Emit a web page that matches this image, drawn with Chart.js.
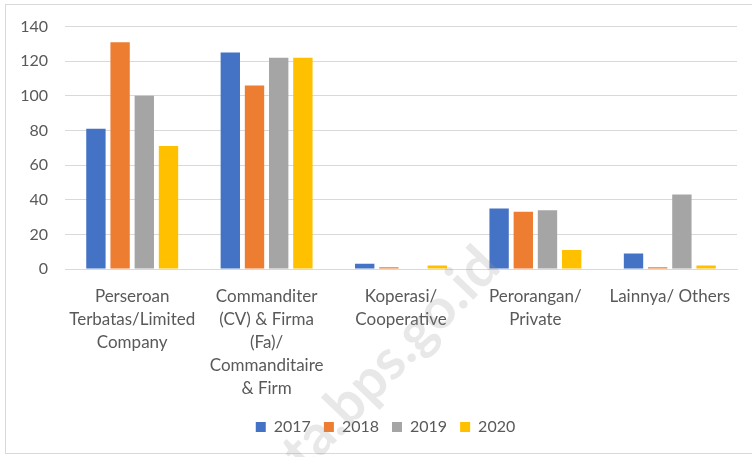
<!DOCTYPE html>
<html>
<head>
<meta charset="utf-8">
<script src="https://cdn.jsdelivr.net/npm/chart.js@4"></script>
<style>
    html, body { margin: 0; padding: 0; background: #fff; }
    #wrap { width: 752px; height: 457px; position: relative; }
</style>
</head>
<body>
<div id="wrap"><canvas id="chart"></canvas></div>
<script>
// categories (wrapped the way the source chart wraps them)
const categories = [
    ['Perseroan', 'Terbatas/Limited', 'Company'],
    ['Commanditer', '(CV) & Firma', '(Fa)/', 'Commanditaire', '& Firm'],
    ['Koperasi/', 'Cooperative'],
    ['Perorangan/', 'Private'],
    ['Lainnya/ Others']
];
const years = ['2017', '2018', '2019', '2020'];
const values2017 = [81, 125, 3, 35, 9];
const values2018 = [131, 106, 1, 33, 1];
const values2019 = [100, 122, 0, 34, 43];
const values2020 = [71, 122, 2, 11, 2];
const yTicks = [0, 20, 40, 60, 80, 100, 120, 140];

const colors = ['#4472C4', '#ED7D31', '#A5A5A5', '#FFC000'];
const textColor = '#595959';
const fontFamily = 'Lato, "Noto Sans", sans-serif';

const frame = {
    id: 'frame',
    afterLayout(chart) {
        // legend sits a bit right of centre in the original
        chart.legend.left += 17;
        chart.legend.right += 17;
    },
    beforeDraw(chart) {
        const ctx = chart.ctx;
        ctx.save();
        ctx.fillStyle = '#fff';
        ctx.fillRect(0, 0, chart.width, chart.height);
        ctx.strokeStyle = '#d9d9d9';
        ctx.lineWidth = 1;
        ctx.strokeRect(5.5, 4.5, chart.width + 10, 449);
        ctx.restore();
    },
    afterDraw(chart) {
        // faint site watermark
        const ctx = chart.ctx;
        ctx.save();
        ctx.translate(270, 484);
        ctx.rotate(-46 * Math.PI / 180);
        ctx.font = 'bold 56px ' + fontFamily;
        ctx.fillStyle = 'rgba(150,150,150,0.22)';
        ctx.fillText('ota.bps.go.id', 0, 0);
        ctx.restore();
    }
};

new Chart(document.getElementById('chart'), {
    type: 'bar',
    data: {
        labels: categories,
        datasets: [values2017, values2018, values2019, values2020].map((v, i) => ({
            label: years[i],
            data: v,
            backgroundColor: colors[i],
            borderWidth: 0,
            barPercentage: 0.8,
            categoryPercentage: 0.72
        }))
    },
    plugins: [frame],
    options: {
        responsive: true,
        maintainAspectRatio: false,
        animation: false,
        layout: { padding: { top: 20, right: 15, bottom: 12, left: 0 } },
        plugins: {
            tooltip: { enabled: false },
            legend: {
                position: 'bottom',
                labels: {
                    color: textColor,
                    font: { family: fontFamily, size: 16 },
                    boxWidth: 10,
                    boxHeight: 10,
                    padding: 13
                }
            }
        },
        scales: {
            x: {
                grid: { display: false, drawTicks: false },
                border: { color: '#d9d9d9' },
                ticks: {
                    color: textColor,
                    font: { family: fontFamily, size: 17, lineHeight: 1.35 },
                    padding: 16,
                    maxRotation: 0,
                    autoSkip: false
                },
                afterFit(scale) { scale.height = 137; }
            },
            y: {
                min: 0,
                max: 140,
                afterBuildTicks(scale) { scale.ticks = yTicks.map(v => ({ value: v })); },
                grid: { color: '#d9d9d9', drawTicks: false },
                border: { display: false },
                ticks: {
                    color: textColor,
                    font: { family: fontFamily, size: 16 },
                    padding: 17
                },
                afterFit(scale) { scale.width = 65; }
            }
        }
    }
});
</script>
</body>
</html>
